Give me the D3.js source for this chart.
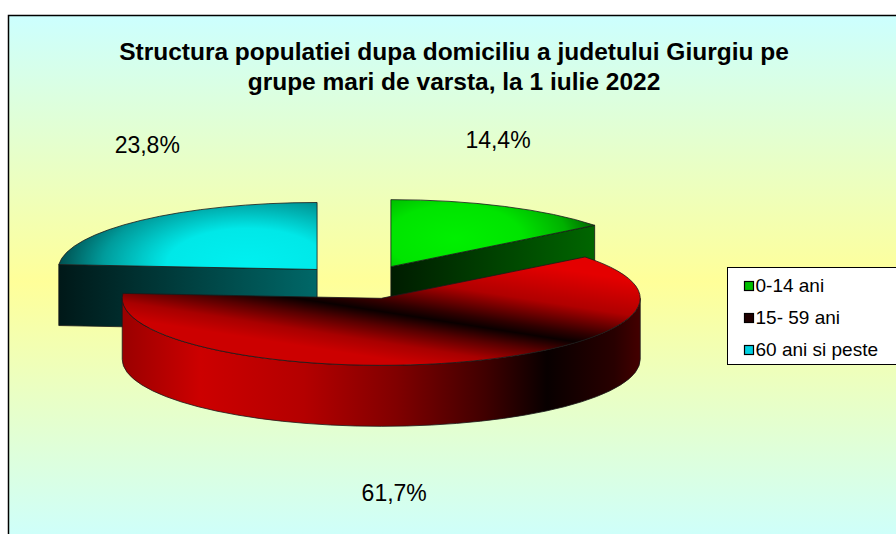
<!DOCTYPE html>
<html>
<head>
<meta charset="utf-8">
<script src="https://cdn.jsdelivr.net/npm/d3@7"></script>
<style>
  body { margin: 0; background: #fff; }
  svg { display: block; font-family: "Liberation Sans", Arial, sans-serif; }
</style>
</head>
<body>
<div id="chart"></div>
<script>
// data
var categories = ["0-14 ani", "15- 59 ani", "60 ani si peste"]
var values = [14.4, 61.7, 23.8]
var valueLabels = ["14,4%", "61,7%", "23,8%"]
var titleLines = ["Structura populatiei dupa domiciliu a judetului Giurgiu pe",
                  "grupe mari de varsta, la 1 iulie 2022"]

var width = 896, height = 534

// pie geometry (3D look)
var cx = 362, cy = 282, rx = 259, ry = 67, depth = 61, explode = 66

var svg = d3.select("#chart").append("svg")
  .attr("width", width)
  .attr("height", height)

var defs = svg.append("defs")

// background gradient cyan -> yellow -> cyan
var bg = defs.append("linearGradient").attr("id", "bg")
  .attr("gradientUnits", "userSpaceOnUse")
  .attr("x1", 0).attr("y1", 15).attr("x2", 0).attr("y2", 548)
bg.append("stop").attr("offset", 0).attr("stop-color", "#ccffff")
bg.append("stop").attr("offset", 0.5).attr("stop-color", "#ffff99")
bg.append("stop").attr("offset", 1).attr("stop-color", "#ccffff")

svg.append("rect")
  .attr("x", 8.5).attr("y", 15.5)
  .attr("width", 900).attr("height", 540)
  .attr("fill", "url(#bg)")
  .attr("stroke", "#000")
  .attr("stroke-width", 1.5)

// title
svg.append("g").selectAll("text")
  .data(titleLines).enter()
  .append("text")
  .attr("x", 454)
  .attr("y", function(d, i) { return 60 + i * 30 })
  .attr("text-anchor", "middle")
  .style("font-size", "24.5px")
  .style("font-weight", "bold")
  .text(function(d) { return d })

var arcs = d3.pie().sort(null).value(function(d) { return d })(values)

arcs.forEach(function(d, i) {
  d.mid = (d.startAngle + d.endAngle) / 2
  d.sx = cx + explode * Math.sin(d.mid)
  d.sy = cy - explode * (ry / rx) * Math.cos(d.mid)
  d.index = i
})

function pt(d, a, z) {
  return [d.sx + rx * Math.sin(a), d.sy - ry * Math.cos(a) + (z || 0)]
}

function topPath(d) {
  var p0 = pt(d, d.startAngle), p1 = pt(d, d.endAngle)
  var large = (d.endAngle - d.startAngle) > Math.PI ? 1 : 0
  return "M" + d.sx + "," + d.sy + "L" + p0 + "A" + rx + "," + ry + " 0 " + large + " 1 " + p1 + "Z"
}

function wallPath(d) {
  var b0 = Math.max(d.startAngle, Math.PI / 2), b1 = Math.min(d.endAngle, 3 * Math.PI / 2)
  if (b1 <= b0) return null
  var t0 = pt(d, b0), t1 = pt(d, b1), u0 = pt(d, b0, depth), u1 = pt(d, b1, depth)
  return "M" + t0 + "A" + rx + "," + ry + " 0 0 1 " + t1 + "L" + u1 +
    "A" + rx + "," + ry + " 0 0 0 " + u0 + "Z"
}

function radialPath(d, a) {
  var p = pt(d, a), q = pt(d, a, depth)
  return "M" + d.sx + "," + d.sy + "L" + p + "L" + q + "L" + d.sx + "," + (d.sy + depth) + "Z"
}

// gradients, one set per slice
function lin(id, x1, y1, x2, y2, stops) {
  var g = defs.append("linearGradient").attr("id", id)
    .attr("gradientUnits", "userSpaceOnUse")
    .attr("x1", x1).attr("y1", y1).attr("x2", x2).attr("y2", y2)
  stops.forEach(function(s) { g.append("stop").attr("offset", s[0]).attr("stop-color", s[1]) })
}
function rad(id, x, y, r, sq, stops) {
  var g = defs.append("radialGradient").attr("id", id)
    .attr("gradientUnits", "userSpaceOnUse")
    .attr("cx", x).attr("cy", y).attr("r", r)
    .attr("gradientTransform", "translate(" + x + "," + y + ") scale(1," + sq + ") translate(" + (-x) + "," + (-y) + ")")
  stops.forEach(function(s) { g.append("stop").attr("offset", s[0]).attr("stop-color", s[1]) })
}

var g0 = arcs[0], g1 = arcs[1], g2 = arcs[2]
// green
rad("top0", g0.sx + 64, g0.sy - 28, 150, 0.5,
  [[0, "#00f000"], [0.45, "#00e400"], [0.75, "#00b000"], [1, "#005000"]])
lin("side0", g0.sx, 0, pt(g0, g0.endAngle)[0], 0, [[0, "#001c00"], [1, "#006600"]])
// red
lin("top1", g1.sx + 80, g1.sy - 45, g1.sx + 62, g1.sy + 70,
  [[0, "#e40000"], [0.3, "#b00000"], [0.52, "#300000"], [0.6, "#0a0000"], [0.72, "#580000"],
   [0.86, "#a80000"], [1, "#cc0000"]])
lin("side1", g1.sx - rx, 0, g1.sx + rx, 0,
  [[0, "#9a0000"], [0.15, "#cc0000"], [0.35, "#b40000"], [0.53, "#800000"], [0.7, "#400000"],
   [0.82, "#080000"], [0.95, "#280000"], [1, "#440000"]])
// cyan
rad("top2", g2.sx - 70, g2.sy - 5, 200, 0.45,
  [[0, "#00f0f0"], [0.4, "#00e8e8"], [0.72, "#009c9c"], [1, "#003c3c"]])
lin("side2", pt(g2, g2.startAngle)[0], 0, g2.sx, 0, [[0, "#001818"], [1, "#006868"]])

var topFill = ["url(#top0)", "url(#top1)", "url(#top2)"]
var sideFill = ["url(#side0)", "url(#side1)", "url(#side2)"]

var order = arcs.slice().sort(function(a, b) { return a.sy - b.sy })

var pieG = svg.append("g")
  .attr("stroke", "#1a1a1a")
  .attr("stroke-width", 0.8)
  .attr("stroke-linejoin", "round")

order.forEach(function(d) {
  var g = pieG.append("g")
  // radial side faces that face the viewer
  if (Math.cos(d.startAngle - Math.PI / 2) < -1e-6)
    g.append("path").attr("d", radialPath(d, d.startAngle)).attr("fill", sideFill[d.index])
  if (Math.cos(d.endAngle + Math.PI / 2) < -1e-6)
    g.append("path").attr("d", radialPath(d, d.endAngle)).attr("fill", sideFill[d.index])
  var w = wallPath(d)
  if (w) g.append("path").attr("d", w).attr("fill", sideFill[d.index])
  g.append("path").attr("d", topPath(d)).attr("fill", topFill[d.index])
})

// value labels, placed outside the slices
var labelRx = 320, labelRy = 160
var labelNudge = [[-4, 2], [-61, -3], [3, -20]]
svg.append("g").selectAll("text")
  .data(arcs).enter()
  .append("text")
  .attr("x", function(d, i) { return cx + labelRx * Math.sin(d.mid) + labelNudge[i][0] })
  .attr("y", function(d, i) {
    var c = Math.cos(d.mid)
    return cy - labelRy * c + (c < 0 ? depth : 0) + 8 + labelNudge[i][1]
  })
  .attr("text-anchor", "middle")
  .style("font-size", "23px")
  .text(function(d, i) { return valueLabels[i] })

// legend
var legend = svg.append("g").attr("transform", "translate(727.5,267.5)")
legend.append("rect")
  .attr("width", 200).attr("height", 97)
  .attr("fill", "#fff").attr("stroke", "#000").attr("stroke-width", 1)

lin("sw0", 0, 0, 9, 9, [[0, "#00ff00"], [1, "#00c000"]])
lin("sw1", 0, 0, 9, 9, [[0, "#c00000"], [1, "#200000"]])
lin("sw2", 0, 0, 9, 9, [[0, "#00ffff"], [1, "#00d0e0"]])

var item = legend.selectAll(".item")
  .data(categories).enter()
  .append("g")
  .attr("transform", function(d, i) { return "translate(0," + (i * 32) + ")" })
item.append("rect")
  .attr("x", 17).attr("y", 14)
  .attr("width", 9).attr("height", 9)
  .attr("fill", function(d, i) { return "url(#sw" + i + ")" })
  .attr("stroke", "#000").attr("stroke-width", 1.2)
item.append("text")
  .attr("x", 28).attr("y", 24)
  .style("font-size", "19px")
  .text(function(d) { return d })
</script>
</body>
</html>
